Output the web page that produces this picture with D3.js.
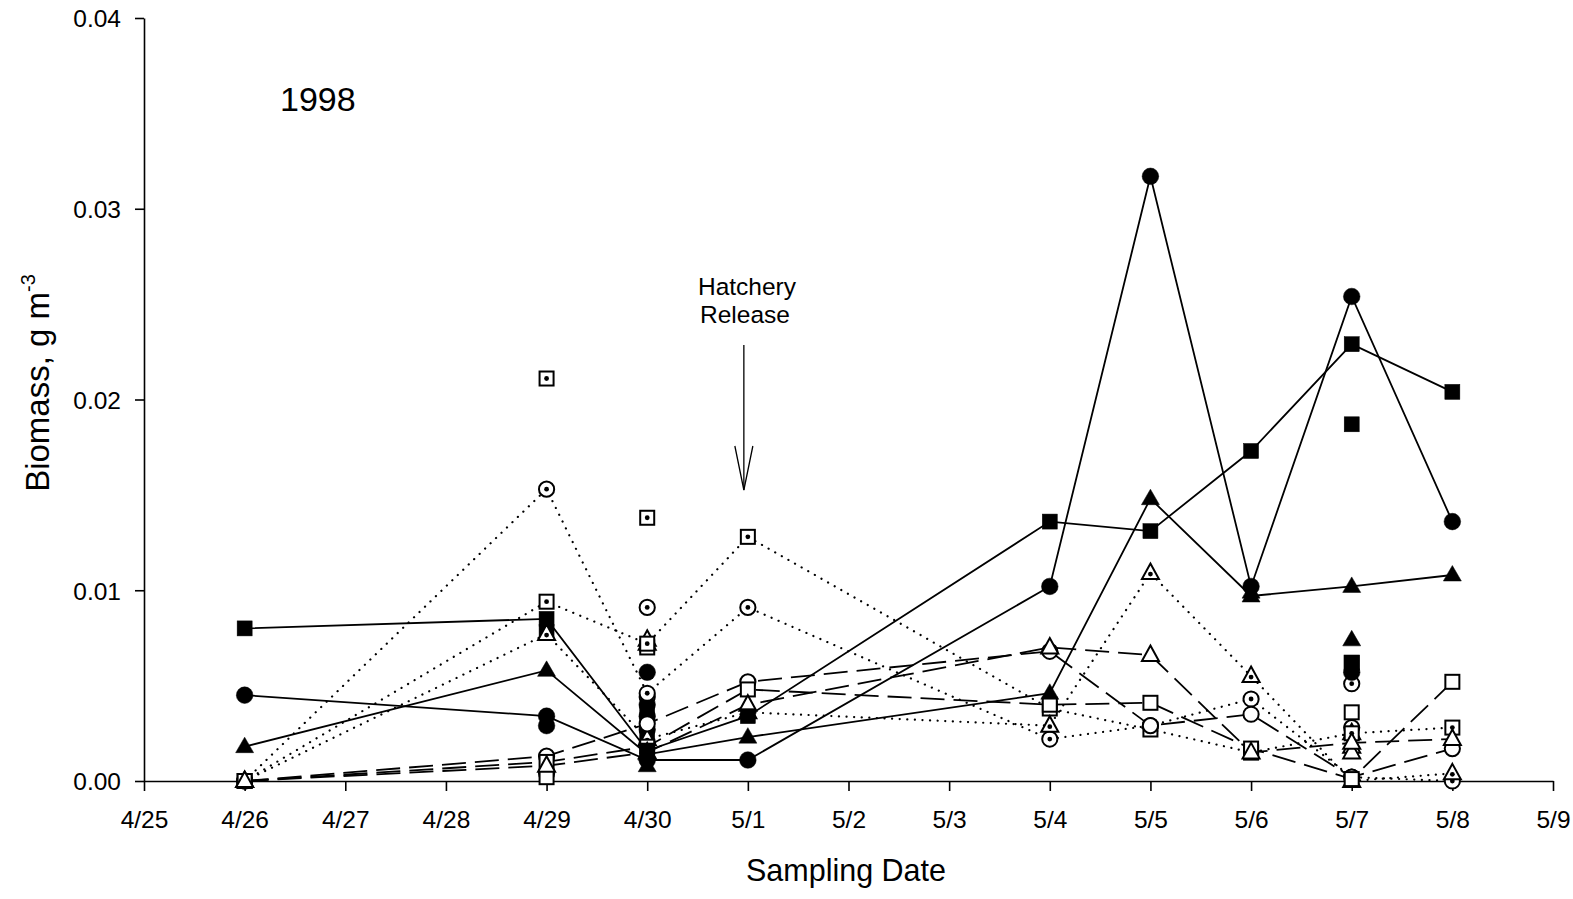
<!DOCTYPE html>
<html>
<head>
<meta charset="utf-8">
<script src="https://cdn.jsdelivr.net/npm/d3@7"></script>
<style>
    body { margin: 0; background: #fff; }
    svg text { font-family: "Liberation Sans", Arial, sans-serif; fill: #000; }
</style>
</head>
<body>
<svg id="chart" width="1573" height="899"></svg>
<script>
// sampling dates (1998)
const dates = ['4/26', '4/29', '4/30', '5/1', '5/4', '5/5', '5/6', '5/7', '5/8'];
const tickLabels = ['4/25', '4/26', '4/27', '4/28', '4/29', '4/30', '5/1', '5/2',
                    '5/3', '5/4', '5/5', '5/6', '5/7', '5/8', '5/9'];
const yTicks = [0, 0.01, 0.02, 0.03, 0.04];

// connected series, one value per sampling date
const solidCircle   = [0.0045, 0.0034, 0.0011, 0.0011, 0.0102, 0.0317, 0.0102, 0.0254, 0.0136];
const solidSquare   = [0.0080, 0.0085, 0.0016, 0.0034, 0.0136, 0.0131, 0.0173, 0.0229, 0.0204];
const solidTriangle = [0.0018, 0.0058, 0.0014, 0.0023, 0.0046, 0.0148, 0.0097, 0.0102, 0.0108];

const dashCircle    = [0.0000, 0.0013, 0.0030, 0.0052, 0.0068, 0.0029, 0.0035, 0.0002, 0.0017];
const dashSquare    = [0.0000, 0.0010, 0.0018, 0.0048, 0.0040, 0.0041, 0.0017, 0.0001, 0.0052];
const dashTriangle  = [0.0000, 0.0008, 0.0015, 0.0040, 0.0070, 0.0066, 0.0015, 0.0020, 0.0022];

const dotCircle     = [0.0000, 0.0153, 0.0046, 0.0091, 0.0022, 0.0029, 0.0043, 0.0002, 0.0000];
const dotSquare     = [0.0000, 0.0094, 0.0072, 0.0128, 0.0038, 0.0027, 0.0015, 0.0025, 0.0028];
const dotTriangle   = [0.0000, 0.0077, 0.0022, 0.0036, 0.0029, 0.0109, 0.0055, 0.0000, 0.0004];

// unconnected replicate points [date, value]
const extraFilledCircle   = [['4/29', 0.0029], ['4/30', 0.0057], ['4/30', 0.0020], ['4/30', 0.0027],
                             ['4/30', 0.0034], ['4/30', 0.0040], ['5/7', 0.0057]];
const extraFilledSquare   = [['4/29', 0.0078], ['4/30', 0.0024], ['4/30', 0.0031], ['4/30', 0.0037],
                             ['5/7', 0.0187], ['5/7', 0.0062]];
const extraFilledTriangle = [['4/30', 0.0008], ['5/7', 0.0074], ['5/6', 0.0099]];
const extraOpenCircle     = [['4/30', 0.0044], ['4/29', 0.0004], ['5/7', 0.0028]];
const extraOpenSquare     = [['4/30', 0.0070], ['5/7', 0.0036], ['4/29', 0.0002]];
const extraOpenTriangle   = [['4/30', 0.0074], ['5/7', 0.0025], ['5/7', 0.0015]];
const extraDotCircle      = [['4/30', 0.0091], ['5/7', 0.0051]];
const extraDotSquare      = [['4/29', 0.0211], ['4/30', 0.0138], ['5/7', 0.0062], ['5/6', 0.0015]];
const extraDotTriangle    = [['4/30', 0.0072], ['5/7', 0.0018]];

const parseDate = (s) => {
    let p = s.split('/');
    return new Date(1998, +p[0] - 1, +p[1]);
};

const svg = d3.select('#chart');

let xScale = d3.scaleTime()
    .domain([parseDate('4/25'), parseDate('5/9')])
    .range([144, 1553]);
let yScale = d3.scaleLinear()
    .domain([0, 0.04])
    .range([781, 18]);

// ---- axes
let xAxis = d3.axisBottom(xScale)
    .tickValues(tickLabels.map(parseDate))
    .tickFormat((d) => (d.getMonth() + 1) + '/' + d.getDate())
    .tickSizeInner(10)
    .tickSizeOuter(0)
    .tickPadding(20);

let yAxis = d3.axisLeft(yScale)
    .tickValues(yTicks)
    .tickFormat(d3.format('.2f'))
    .tickSizeInner(9)
    .tickSizeOuter(0)
    .tickPadding(14);

let gx = svg.append('g')
    .attr('transform', 'translate(0,781)')
    .call(xAxis);
let gy = svg.append('g')
    .attr('transform', 'translate(144,0)')
    .call(yAxis);

[gx, gy].forEach((g) => {
    g.select('.domain').attr('stroke', '#000').attr('stroke-width', 1.6);
    g.selectAll('.tick line').attr('stroke', '#000').attr('stroke-width', 1.6);
    g.selectAll('.tick text')
        .style('font-family', '"Liberation Sans", Arial, sans-serif')
        .style('font-size', '24.5px');
});
gx.selectAll('.tick text').attr('dy', '0.71em');
gy.selectAll('.tick text').attr('dy', '0.36em');

// ---- titles
svg.append('text')
    .attr('x', 846)
    .attr('y', 881)
    .attr('text-anchor', 'middle')
    .style('font-size', '30.5px')
    .text('Sampling Date');

let yTitle = svg.append('text')
    .attr('transform', 'translate(49,383) rotate(-90)')
    .attr('text-anchor', 'middle')
    .style('font-size', '33px');
yTitle.append('tspan').text('Biomass, g m');
yTitle.append('tspan')
    .attr('dy', -14)
    .style('font-size', '20px')
    .text('-3');

svg.append('text')
    .attr('x', 280)
    .attr('y', 111)
    .style('font-size', '34px')
    .text('1998');

// hatchery release annotation
svg.append('text')
    .attr('x', 747)
    .attr('y', 295)
    .attr('text-anchor', 'middle')
    .style('font-size', '24.5px')
    .text('Hatchery');
svg.append('text')
    .attr('x', 745)
    .attr('y', 323)
    .attr('text-anchor', 'middle')
    .style('font-size', '24.5px')
    .text('Release');

let release = xScale(parseDate('5/1')) - 4;
svg.append('line')
    .attr('x1', release).attr('x2', release)
    .attr('y1', 345).attr('y2', 490)
    .attr('stroke', '#000').attr('stroke-width', 1.3);
svg.append('path')
    .attr('d', `M${release - 9},446 L${release},490 L${release + 9},446`)
    .attr('fill', 'none')
    .attr('stroke', '#000').attr('stroke-width', 1.3);

// ---- series
const dashStyles = {
    solid: null,
    dash: '24,9',
    dot: '0.1,7.5'
};

let lineGen = d3.line()
    .defined((d) => d[1] != null)
    .x((d) => xScale(parseDate(d[0])))
    .y((d) => yScale(d[1]));

const series = [
    {values: dotCircle, line: 'dot', shape: 'circle', fill: 'dotted'},
    {values: dotSquare, line: 'dot', shape: 'square', fill: 'dotted'},
    {values: dotTriangle, line: 'dot', shape: 'triangle', fill: 'dotted'},
    {values: dashCircle, line: 'dash', shape: 'circle', fill: 'open'},
    {values: dashSquare, line: 'dash', shape: 'square', fill: 'open'},
    {values: dashTriangle, line: 'dash', shape: 'triangle', fill: 'open'},
    {values: solidCircle, line: 'solid', shape: 'circle', fill: 'filled'},
    {values: solidSquare, line: 'solid', shape: 'square', fill: 'filled'},
    {values: solidTriangle, line: 'solid', shape: 'triangle', fill: 'filled'}
];

const extras = [
    {points: extraDotCircle, shape: 'circle', fill: 'dotted'},
    {points: extraDotSquare, shape: 'square', fill: 'dotted'},
    {points: extraDotTriangle, shape: 'triangle', fill: 'dotted'},
    {points: extraOpenCircle, shape: 'circle', fill: 'open'},
    {points: extraOpenSquare, shape: 'square', fill: 'open'},
    {points: extraOpenTriangle, shape: 'triangle', fill: 'open'},
    {points: extraFilledCircle, shape: 'circle', fill: 'filled'},
    {points: extraFilledSquare, shape: 'square', fill: 'filled'},
    {points: extraFilledTriangle, shape: 'triangle', fill: 'filled'}
];

let gLines = svg.append('g');
let gMarks = svg.append('g');

series.forEach((s) => {
    let pts = dates.map((d, i) => [d, s.values[i]]);
    gLines.append('path')
        .datum(pts)
        .attr('d', lineGen)
        .attr('fill', 'none')
        .attr('stroke', '#000')
        .attr('stroke-width', s.line === 'dot' ? 2.2 : 1.8)
        .attr('stroke-linecap', s.line === 'dot' ? 'round' : 'butt')
        .attr('stroke-dasharray', dashStyles[s.line]);
});

function marker(g, shape, fill, cx, cy) {
    let filled = fill === 'filled';
    let el;
    if (shape === 'circle') {
        el = g.append('circle')
            .attr('cx', cx).attr('cy', cy)
            .attr('r', filled ? 8.3 : 7.6);
    } else if (shape === 'square') {
        let s = filled ? 15 : 14;
        el = g.append('rect')
            .attr('x', cx - s / 2).attr('y', cy - s / 2)
            .attr('width', s).attr('height', s);
    } else {
        let w = filled ? 9 : 8.5;
        el = g.append('path')
            .attr('d', `M${cx},${cy - 9.5} L${cx + w},${cy + 6} L${cx - w},${cy + 6} Z`);
    }
    el.attr('fill', filled ? '#000' : '#fff')
      .attr('stroke', '#000')
      .attr('stroke-width', filled ? 0.5 : 2);
    if (fill === 'dotted') {
        g.append('circle')
            .attr('cx', cx)
            .attr('cy', shape === 'triangle' ? cy + 1 : cy)
            .attr('r', 2.4)
            .attr('fill', '#000');
    }
}

// hollow ones first, filled markers on top as in the original
extras.forEach((e) => {
    e.points.forEach((p) => {
        marker(gMarks, e.shape, e.fill, xScale(parseDate(p[0])), yScale(p[1]));
    });
});
series.forEach((s) => {
    dates.forEach((d, i) => {
        if (s.values[i] == null) return;
        marker(gMarks, s.shape, s.fill, xScale(parseDate(d)), yScale(s.values[i]));
    });
});
</script>
</body>
</html>
